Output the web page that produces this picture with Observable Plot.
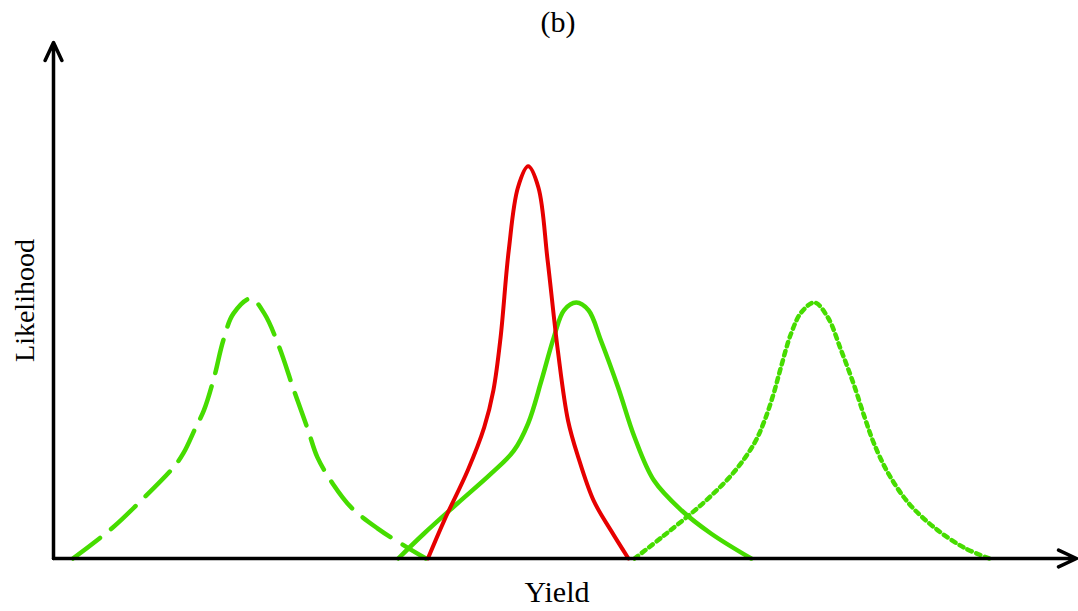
<!DOCTYPE html>
<html>
<head>
<meta charset="utf-8">
<script src="https://cdn.jsdelivr.net/npm/d3@7"></script>
<script src="https://cdn.jsdelivr.net/npm/@observablehq/plot@0.6"></script>
<style>
  html, body { margin: 0; padding: 0; background: #fff; }
  #title { width: 1078px; height: 40px; box-sizing: border-box; padding-top: 3px; padding-left: 38px; line-height: 37px;
           text-align: center; font-family: "Liberation Serif", serif; font-size: 30px; color: #000; }
  #chart svg { display: block; }
</style>
</head>
<body>
<div id="title">(b)</div>
<div id="chart"></div>
<script>
// Title and axis labels
const titleText = "(b)";
const xLabel = "Yield";
const yLabel = "Likelihood";

// Dashed green curve (low yield)
const dashedX = [1.9, 5.8, 8.3, 11.7, 12.7, 13.9, 14.7, 15.7, 16.6, 17.6, 19.3, 20.6, 22.0, 23.5, 24.9, 25.8, 27.3, 29.1, 31.7, 34.6, 36.4];
const dashedY = [0, 6.0, 10.7, 17.6, 20.4, 25.4, 28.7, 35.1, 42.3, 47.5, 50.4, 47.5, 41.3, 32.6, 24.8, 19.6, 14.5, 9.9, 5.8, 2.1, 0];

// Red curve (narrow, tall)
const redX = [36.6, 38.2, 40.5, 42.1, 43.0, 43.7, 44.5, 45.4, 46.4, 47.4, 48.3, 49.3, 50.3, 51.3, 52.8, 54.5, 56.2];
const redY = [0, 7.4, 17.1, 25.4, 32.6, 42.8, 59.7, 71.9, 76.0, 71.9, 57.8, 40.3, 26.7, 19.6, 11.2, 5.4, 0];

// Solid green curve (middle)
const solidX = [33.7, 36.2, 39.5, 42.8, 45.0, 46.4, 47.7, 48.9, 49.9, 51.1, 52.3, 53.5, 55.2, 56.8, 58.7, 61.4, 64.3, 68.2];
const solidY = [0, 4.8, 10.7, 16.5, 20.9, 26.2, 34.5, 42.8, 48.1, 49.6, 48.1, 42.3, 33.1, 23.5, 15.1, 9.3, 4.8, 0];

// Dotted green curve (high yield)
const dottedX = [56.8, 59.7, 63.6, 66.5, 68.5, 69.5, 70.4, 71.1, 72.1, 73.1, 74.4, 75.7, 77.0, 78.2, 79.3, 80.2, 81.6, 83.6, 86.1, 89.0, 91.5];
const dottedY = [0, 4.5, 10.9, 16.7, 22.3, 26.7, 32.0, 37.0, 43.6, 47.7, 49.6, 46.7, 40.3, 33.9, 27.3, 22.3, 16.5, 10.7, 6.0, 2.1, 0];

const green = "#46dc00";
const red = "#e60000";

const toRows = (xs, ys) => xs.map((x, i) => ({x, y: ys[i]}));
const dashed = toRows(dashedX, dashedY);
const redCurve = toRows(redX, redY);
const solid = toRows(solidX, solidY);
const dotted = toRows(dottedX, dottedY);

const axes = [
  {x1: 0, y1: 0, x2: 100, y2: 0},
  {x1: 0, y1: 0, x2: 0, y2: 100}
];

document.getElementById("title").textContent = titleText;

const chart = Plot.plot({
  width: 1078,
  height: 571,
  marginLeft: 53,
  marginRight: 2,
  marginTop: 2,
  marginBottom: 53,
  x: {domain: [0, 100], axis: null},
  y: {domain: [0, 100], axis: null},
  style: {fontFamily: "Liberation Serif, serif", background: "#fff"},
  marks: [
    Plot.line(dashed, {x: "x", y: "y", stroke: green, strokeWidth: 4.5, strokeDasharray: "34,14", curve: "catmull-rom"}),
    Plot.line(solid, {x: "x", y: "y", stroke: green, strokeWidth: 4.5, curve: "catmull-rom"}),
    Plot.line(dotted, {x: "x", y: "y", stroke: green, strokeWidth: 4.5, strokeDasharray: "4.5,4.8", curve: "catmull-rom"}),
    Plot.line(redCurve, {x: "x", y: "y", stroke: red, strokeWidth: 4, curve: "catmull-rom"}),
    Plot.arrow(axes, {x1: "x1", y1: "y1", x2: "x2", y2: "y2", stroke: "#000", strokeWidth: 3.5, headLength: 8.5, headAngle: 50}),
    Plot.text([xLabel], {text: d => d, frameAnchor: "bottom", dy: 43, dx: -8, fontSize: 30, fill: "#000"}),
    Plot.text([yLabel], {text: d => d, frameAnchor: "left", textAnchor: "middle", rotate: -90, dx: -28, fontSize: 28, fill: "#000"})
  ]
});
document.getElementById("chart").appendChild(chart);
</script>
</body>
</html>
